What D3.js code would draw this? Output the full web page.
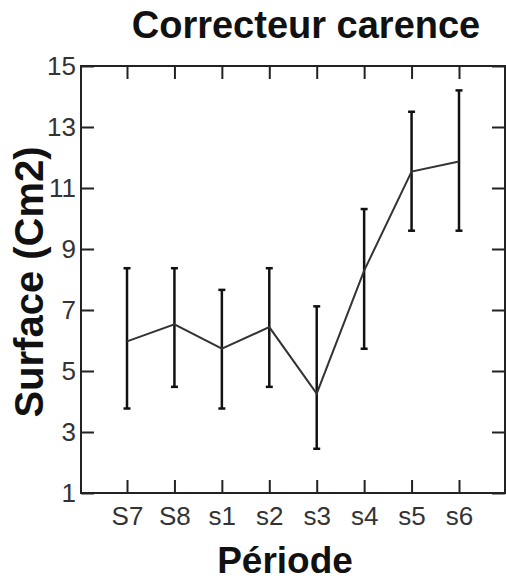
<!DOCTYPE html>
<meta charset="utf-8">
<html>
<head>
  <meta charset="utf-8">
  <title>Correcteur carence</title>
</head>
<style>
  body { margin: 0; background: #fff; }
  svg text { font-family: "Liberation Sans", Arial, sans-serif; }
  .tick text { fill: #333; font-size: 26px; }
  .frame { fill: none; stroke: #222; stroke-width: 2; }
</style>
<body>
<svg width="506" height="583"></svg>
<script src="https://d3js.org/d3.v7.min.js"></script>
<script>

var periods = ["S7", "S8", "s1", "s2", "s3", "s4", "s5", "s6"];
var means   = [5.97, 6.53, 5.73, 6.44, 4.26, 8.29, 11.54, 11.87];
var upper   = [8.37, 8.37, 7.66, 8.37, 7.12, 10.31, 13.5, 14.2];
var lower   = [3.77, 4.48, 3.77, 4.48, 2.45, 5.73, 9.6, 9.6];
var yTicks  = [1, 3, 5, 7, 9, 11, 13, 15];

var svg = d3.select("svg");
var plotLeft = 81, plotRight = 505, plotTop = 66, plotBottom = 493;

var x = d3.scalePoint().domain(periods).range([plotLeft, plotRight]).padding(0.97);
var y = d3.scaleLinear().domain([1, 15]).range([plotBottom, plotTop]);

var data = periods.map(function(p, i) {
  return {p: p, m: means[i], hi: upper[i], lo: lower[i]};
});

// axes, ticks pointing inward on all 4 sides
var tickLen = 13;
svg.append("g").attr("class", "axis").attr("transform", "translate(0," + plotBottom + ")")
  .call(d3.axisBottom(x).tickSizeInner(-tickLen).tickSizeOuter(0).tickPadding(14));
svg.append("g").attr("class", "axis").attr("transform", "translate(0," + plotTop + ")")
  .call(d3.axisTop(x).tickSizeInner(-tickLen).tickSizeOuter(0).tickFormat(""));
svg.append("g").attr("class", "axis").attr("transform", "translate(" + plotLeft + ",0)")
  .call(d3.axisLeft(y).tickValues(yTicks).tickSizeInner(-tickLen).tickSizeOuter(0).tickPadding(5));
svg.append("g").attr("class", "axis").attr("transform", "translate(" + plotRight + ",0)")
  .call(d3.axisRight(y).tickValues(yTicks).tickSizeInner(-tickLen).tickSizeOuter(0).tickFormat(""));

svg.selectAll(".axis .domain").remove();
svg.selectAll(".axis .tick line").attr("stroke", "#222").attr("stroke-width", 2);
svg.selectAll(".axis .tick text").attr("font-family", null).attr("font-size", null);

svg.append("rect").attr("class", "frame")
  .attr("x", plotLeft).attr("y", plotTop)
  .attr("width", plotRight - plotLeft).attr("height", plotBottom - plotTop);

// error bars
var eb = svg.append("g").attr("stroke", "#111").attr("stroke-width", 2.5);
eb.selectAll("line.v").data(data).enter().append("line")
  .attr("x1", function(d) { return x(d.p); }).attr("x2", function(d) { return x(d.p); })
  .attr("y1", function(d) { return y(d.lo); }).attr("y2", function(d) { return y(d.hi); });
eb.selectAll("line.hi").data(data).enter().append("line")
  .attr("x1", function(d) { return x(d.p) - 3.5; }).attr("x2", function(d) { return x(d.p) + 3.5; })
  .attr("y1", function(d) { return y(d.hi); }).attr("y2", function(d) { return y(d.hi); });
eb.selectAll("line.lo").data(data).enter().append("line")
  .attr("x1", function(d) { return x(d.p) - 3.5; }).attr("x2", function(d) { return x(d.p) + 3.5; })
  .attr("y1", function(d) { return y(d.lo); }).attr("y2", function(d) { return y(d.lo); });

// mean line
svg.append("path").datum(data)
  .attr("fill", "none").attr("stroke", "#333").attr("stroke-width", 2)
  .attr("d", d3.line().x(function(d) { return x(d.p); }).y(function(d) { return y(d.m); }));

// titles
svg.append("text").attr("x", 306).attr("y", 38).attr("text-anchor", "middle")
  .attr("font-size", 38).attr("font-weight", "bold").attr("fill", "#111")
  .text("Correcteur carence");
svg.append("text").attr("x", 285).attr("y", 573).attr("text-anchor", "middle")
  .attr("font-size", 37).attr("font-weight", "bold").attr("fill", "#111")
  .text("Période");
svg.append("text").attr("transform", "translate(43," + 282 + ") rotate(-90)")
  .attr("text-anchor", "middle")
  .attr("font-size", 40).attr("font-weight", "bold").attr("fill", "#111")
  .text("Surface (Cm2)");

</script>
</body>
</html>
